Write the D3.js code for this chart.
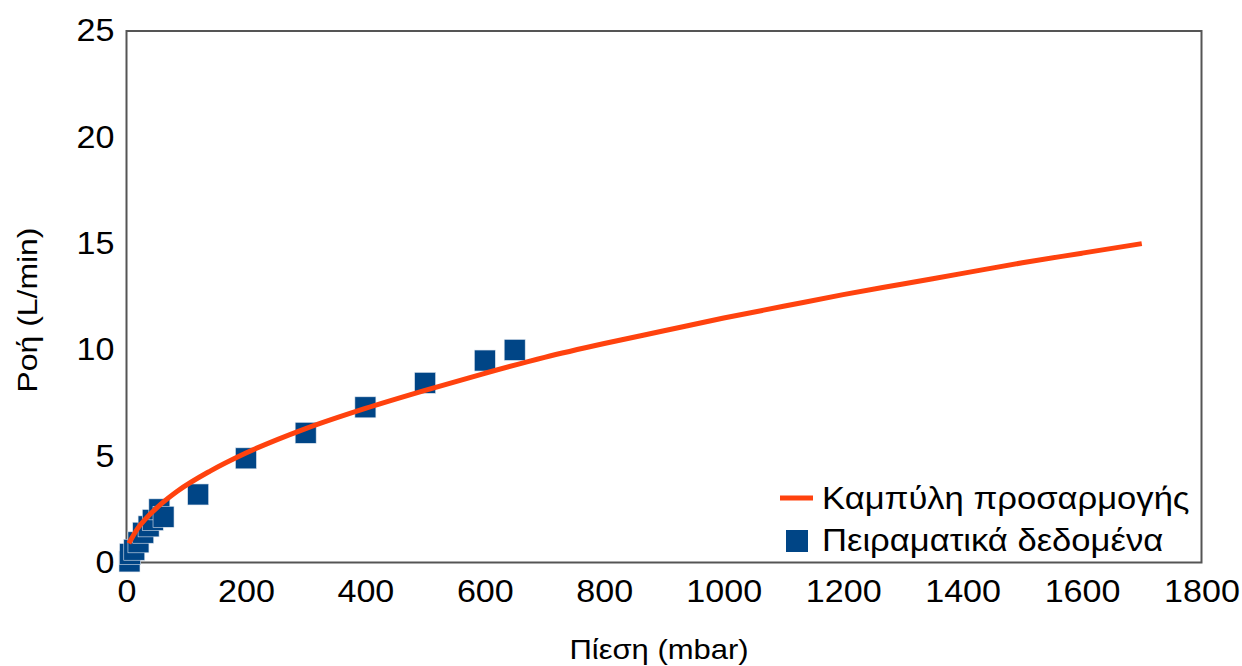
<!DOCTYPE html>
<html><head><meta charset="utf-8">
<script src="https://cdn.jsdelivr.net/npm/d3@7"></script>
<style>
html,body{margin:0;padding:0;background:#fff;}
svg{display:block;font-family:"Liberation Sans",Arial,sans-serif;}
</style></head>
<body><svg id="c" width="1242" height="666"></svg>
<script>
// Experimental data
const dataX = [5, 6, 13, 20, 28, 37, 44, 55, 62, 120, 200, 300, 400, 500, 600, 650];
const dataY = [0.05, 0.4, 0.6, 0.95, 1.4, 1.7, 2.0, 2.5, 2.15, 3.2, 4.9, 6.1, 7.3, 8.45, 9.5, 10.0];
// Fit curve
const fitX = [4, 10, 20, 32, 60, 85, 140, 200, 300, 400, 500, 600, 700, 800, 900, 1000, 1100, 1200, 1300, 1400, 1500, 1600, 1700];
const fitY = [0.9, 1.2, 1.65, 2.05, 2.8, 3.35, 4.3, 5.15, 6.3, 7.25, 8.1, 8.9, 9.65, 10.3, 10.9, 11.5, 12.05, 12.6, 13.1, 13.6, 14.1, 14.55, 15.0];
const xTicks = [0, 200, 400, 600, 800, 1000, 1200, 1400, 1600, 1800];
const yTicks = [0, 5, 10, 15, 20, 25];
const xTitle = "Πίεση (mbar)";
const yTitle = "Ροή (L/min)";
const legendLabels = ["Καμπύλη προσαρμογής", "Πειραματικά δεδομένα"];

const L = 126.5, R = 1201.5, T = 31, B = 562.5;
const svg = d3.select("#c");
const x = d3.scaleLinear().domain([0, 1800]).range([L, R]);
const y = d3.scaleLinear().domain([0, 25]).range([B, T]);
const SX = 1.1;

// frame
svg.append("rect").attr("x", L).attr("y", T).attr("width", R - L).attr("height", B - T)
  .attr("fill", "none").attr("stroke", "#555").attr("stroke-width", 2);

// axes (labels only)
const xAxis = svg.append("g").attr("transform", `translate(0,${B})`)
  .call(d3.axisBottom(x).tickValues(xTicks).tickSize(0).tickPadding(18).tickFormat(d3.format("d")));
xAxis.select(".domain").remove();
xAxis.selectAll("text").attr("font-size", 31).attr("fill", "#000")
  .attr("font-family", "Liberation Sans").attr("transform", `scale(${SX},1)`);

const yAxis = svg.append("g").attr("transform", `translate(${L},0)`)
  .call(d3.axisLeft(y).tickValues(yTicks).tickSize(0).tickPadding(12).tickFormat(d3.format("d")));
yAxis.select(".domain").remove();
yAxis.selectAll("text").attr("font-size", 31).attr("fill", "#000")
  .attr("font-family", "Liberation Sans").attr("x", -12 / SX).attr("transform", `scale(${SX},1)`);

// titles
svg.append("text").attr("transform", "translate(659,659) scale(1.148,1)").attr("text-anchor", "middle")
  .attr("font-size", 27).attr("fill", "#000").text(xTitle);
svg.append("text").attr("transform", "translate(37,310) rotate(-90) scale(1.16,1)").attr("text-anchor", "middle")
  .attr("font-size", 27.5).attr("fill", "#000").text(yTitle);

// data squares
const pts = dataX.map((d, i) => [d, dataY[i]]);
const S = 21;
svg.append("g").selectAll("rect").data(pts).join("rect")
  .attr("x", d => x(d[0]) - S / 2).attr("y", d => y(d[1]) - S / 2)
  .attr("width", S).attr("height", S).attr("fill", "#004586")
  .attr("stroke", "#dfe6ee").attr("stroke-width", 0.6);

// fit curve (drawn over the squares)
const fit = fitX.map((d, i) => [d, fitY[i]]);
svg.append("path").datum(fit)
  .attr("d", d3.line().x(d => x(d[0])).y(d => y(d[1])).curve(d3.curveMonotoneX))
  .attr("fill", "none").attr("stroke", "#ff420e").attr("stroke-width", 5);

// legend
const lg = svg.append("g");
lg.append("line").attr("x1", 780).attr("x2", 813).attr("y1", 498).attr("y2", 498)
  .attr("stroke", "#ff420e").attr("stroke-width", 5);
lg.append("rect").attr("x", 786).attr("y", 530).attr("width", 22).attr("height", 22).attr("fill", "#004586");
lg.append("text").attr("transform", "translate(822,509) scale(1.116,1)").attr("font-size", 31).attr("fill", "#000").text(legendLabels[0]);
lg.append("text").attr("transform", "translate(822,551) scale(1.116,1)").attr("font-size", 31).attr("fill", "#000").text(legendLabels[1]);
</script></body></html>
